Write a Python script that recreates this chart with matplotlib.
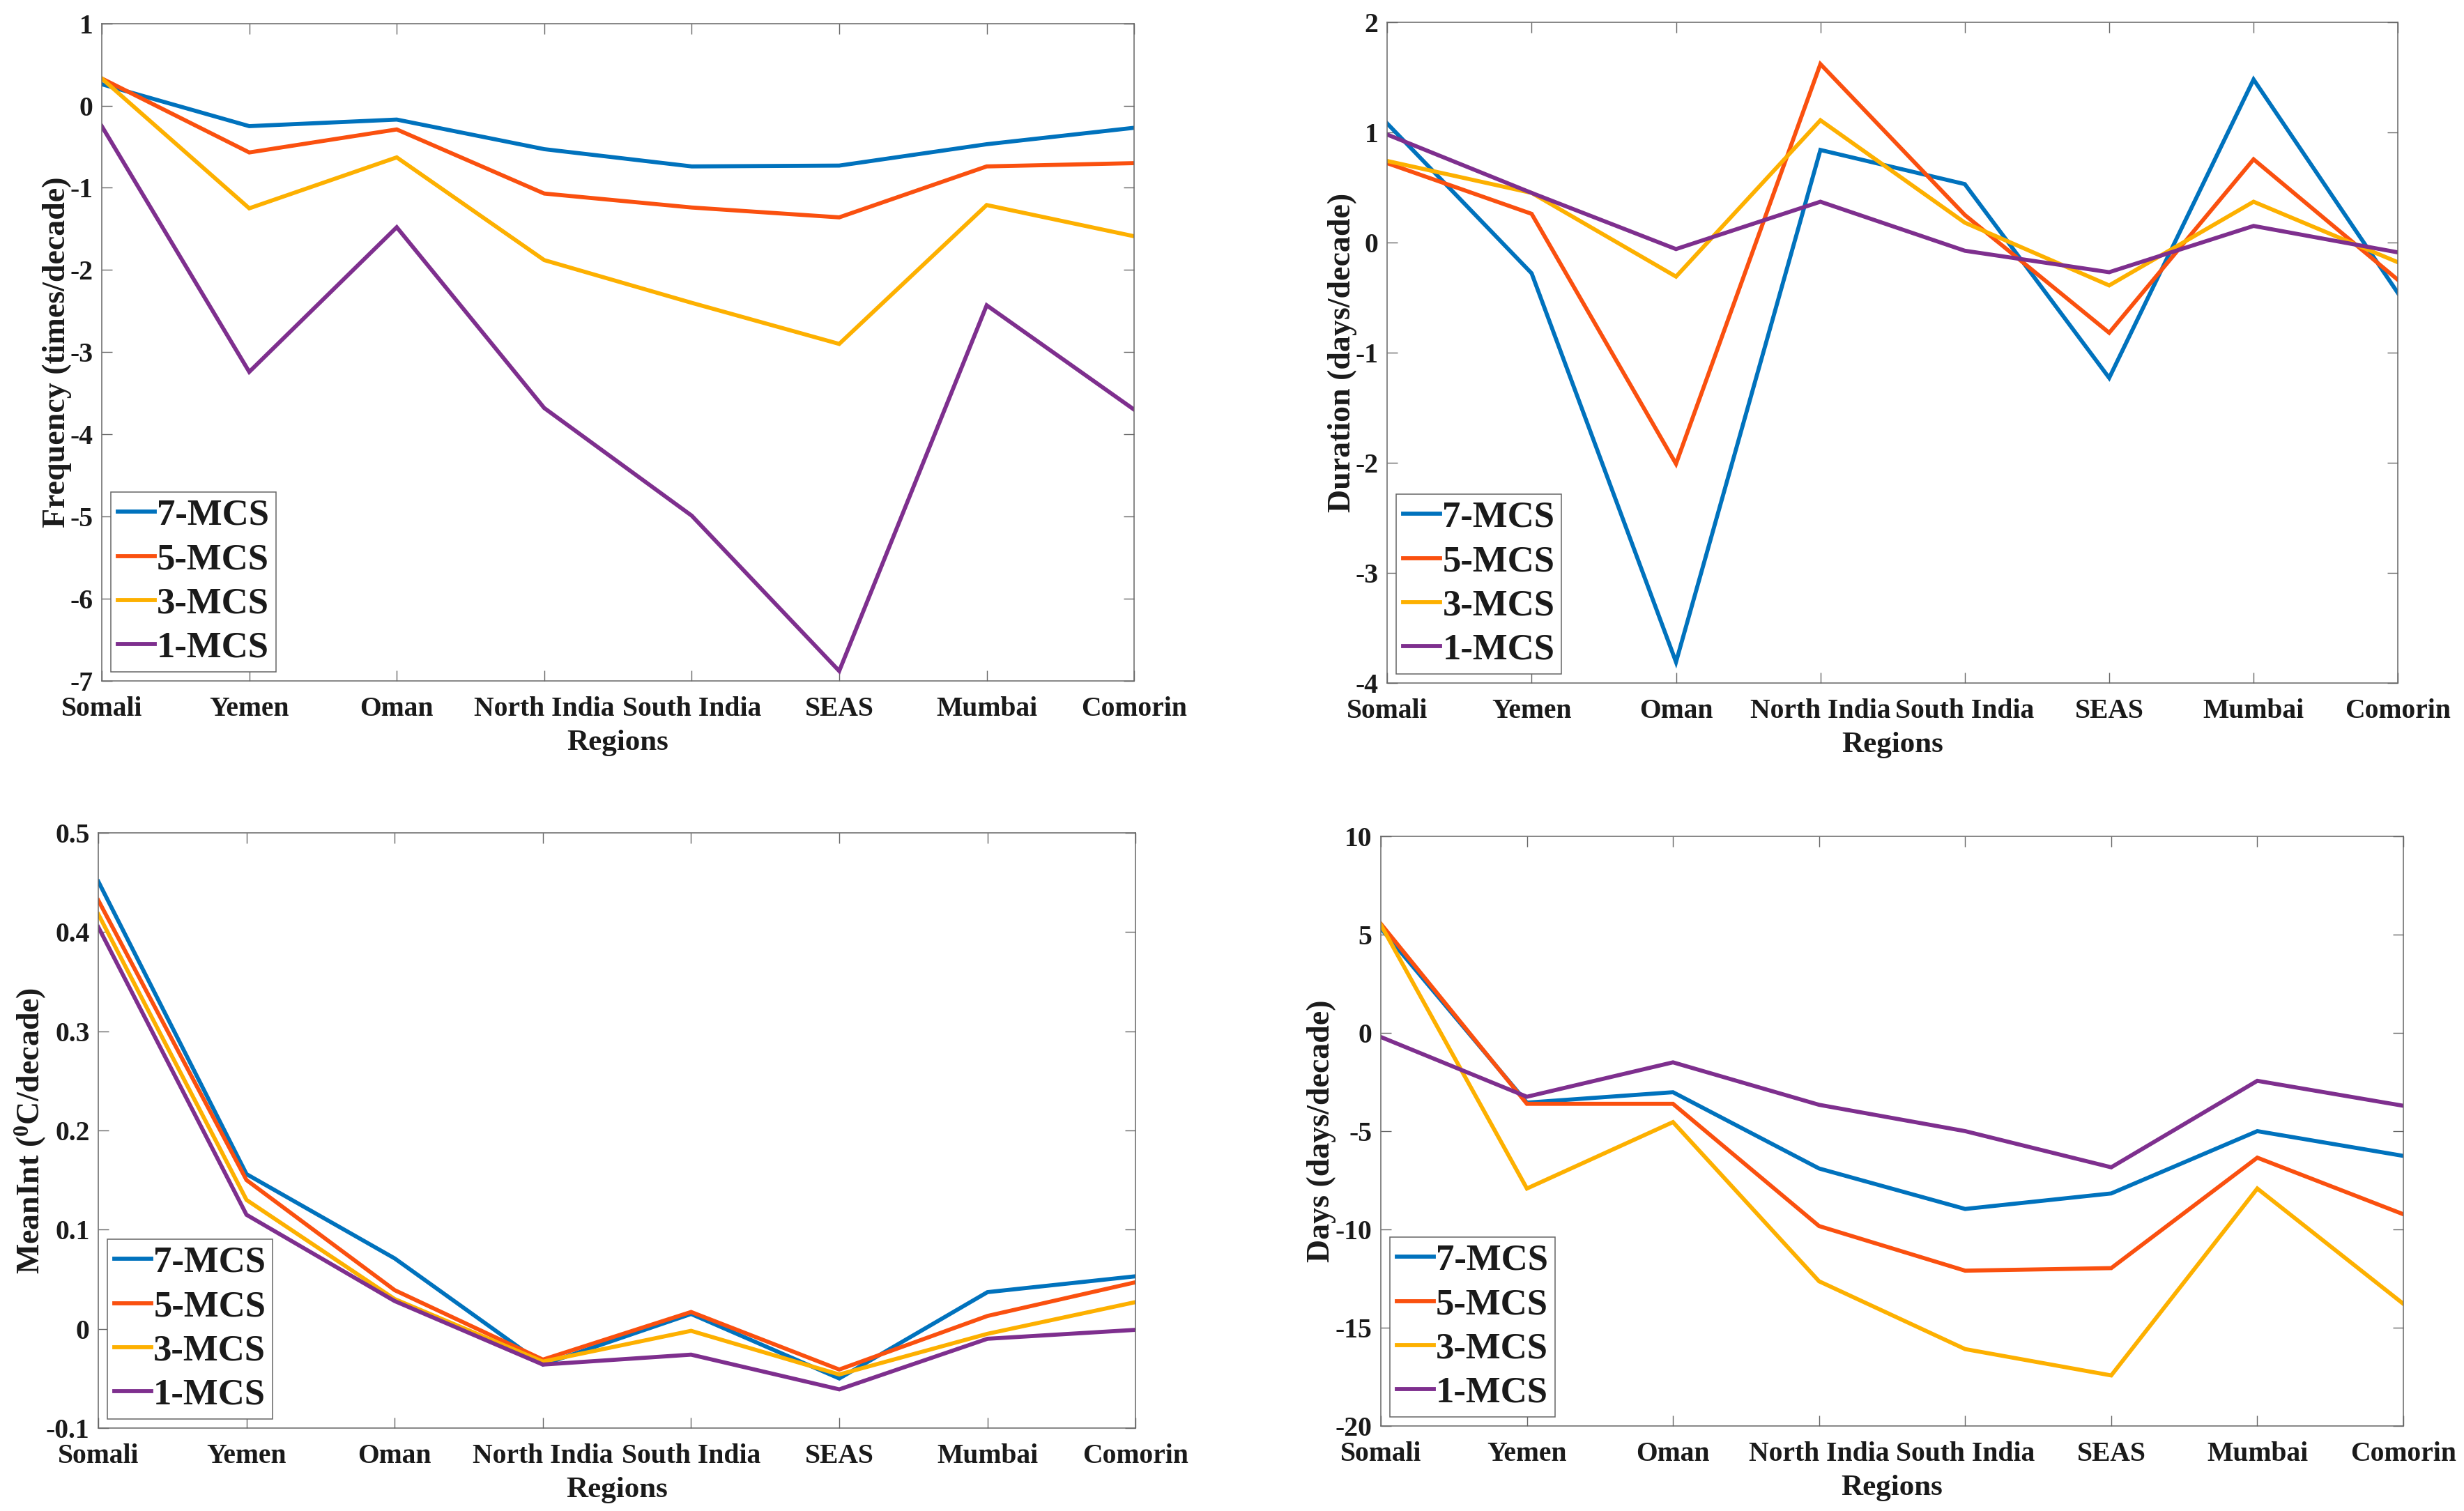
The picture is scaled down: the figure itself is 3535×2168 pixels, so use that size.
import matplotlib
matplotlib.use("Agg")
import matplotlib.pyplot as plt
from matplotlib.ticker import FuncFormatter, FixedLocator

plt.rcParams['font.family'] = ['Liberation Serif', 'DejaVu Serif']
plt.rcParams['font.weight'] = 'bold'
plt.rcParams['axes.unicode_minus'] = False
plt.rcParams['mathtext.fontset'] = 'custom'
plt.rcParams['mathtext.rm'] = 'Liberation Serif:bold'
plt.rcParams['mathtext.bf'] = 'Liberation Serif:bold'
plt.rcParams['mathtext.it'] = 'Liberation Serif:bold'

regions = ["Somali", "Yemen", "Oman", "North India", "South India", "SEAS", "Mumbai", "Comorin"]
series_names = ["7-MCS", "5-MCS", "3-MCS", "1-MCS"]
colors = ["#0072BD", "#FA500F", "#FDB000", "#7E2F8E"]

# Frequency (times/decade)
freq_7 = [0.26, -0.25, -0.17, -0.53, -0.74, -0.73, -0.47, -0.27]
freq_5 = [0.33, -0.57, -0.29, -1.07, -1.24, -1.36, -0.74, -0.70]
freq_3 = [0.33, -1.25, -0.63, -1.88, -2.40, -2.90, -1.21, -1.59]
freq_1 = [-0.25, -3.24, -1.48, -3.68, -4.99, -6.88, -2.43, -3.70]

# Duration (days/decade)
dur_7 = [1.08, -0.28, -3.81, 0.84, 0.53, -1.23, 1.48, -0.46]
dur_5 = [0.72, 0.26, -2.01, 1.62, 0.25, -0.82, 0.755, -0.34]
dur_3 = [0.74, 0.45, -0.31, 1.11, 0.18, -0.39, 0.37, -0.18]
dur_1 = [0.98, 0.45, -0.06, 0.37, -0.075, -0.27, 0.15, -0.09]

# MeanInt (degC/decade)
mi_7 = [0.451, 0.156, 0.071, -0.036, 0.015, -0.050, 0.037, 0.053]
mi_5 = [0.432, 0.150, 0.039, -0.031, 0.017, -0.041, 0.013, 0.047]
mi_3 = [0.418, 0.130, 0.030, -0.033, -0.002, -0.046, -0.005, 0.027]
mi_1 = [0.405, 0.115, 0.028, -0.036, -0.026, -0.061, -0.010, -0.001]

# Days (days/decade)
days_7 = [5.32, -3.55, -3.02, -6.90, -8.96, -8.17, -5.00, -6.26]
days_5 = [5.55, -3.61, -3.61, -9.83, -12.10, -11.97, -6.35, -9.23]
days_3 = [5.50, -7.92, -4.54, -12.64, -16.09, -17.43, -7.92, -13.79]
days_1 = [-0.21, -3.25, -1.50, -3.66, -5.00, -6.84, -2.44, -3.71]

panels = [
    dict(data=[freq_7, freq_5, freq_3, freq_1], ylim=(-7, 1), yticks=list(range(-7, 2)),
         ylabel="Frequency (times/decade)", rect=[0.0413, 0.5494, 0.4190, 0.4351], ypad=-2),
    dict(data=[dur_7, dur_5, dur_3, dur_1], ylim=(-4, 2), yticks=list(range(-4, 3)),
         ylabel="Duration (days/decade)", rect=[0.5630, 0.5480, 0.4102, 0.4373], ypad=-2),
    dict(data=[mi_7, mi_5, mi_3, mi_1], ylim=(-0.1, 0.5), yticks=[-0.1, 0, 0.1, 0.2, 0.3, 0.4, 0.5],
         ylabel=r"MeanInt ($^{\mathbf{0}}$C/decade)", rect=[0.0399, 0.0549, 0.4210, 0.3939], ypad=-2),
    dict(data=[days_7, days_5, days_3, days_1], ylim=(-20, 10), yticks=[-20, -15, -10, -5, 0, 5, 10],
         ylabel="Days (days/decade)", rect=[0.5604, 0.0563, 0.4150, 0.3902], ypad=-1),
]

fig = plt.figure(figsize=(35.35, 21.68), dpi=100)
x = list(range(len(regions)))
frame_col = "#666666"
text_col = "#1a1a1a"

def fmt(v, pos):
    return "%g" % round(v, 6)

for p in panels:
    ax = fig.add_axes(p["rect"])
    for vals, name, c in zip(p["data"], series_names, colors):
        ax.plot(x, vals, color=c, lw=4.2, label=name, solid_joinstyle='miter')
    ax.set_xlim(0, len(regions) - 1)
    ax.set_ylim(*p["ylim"])
    ax.xaxis.set_major_locator(FixedLocator(x))
    ax.set_xticklabels(regions)
    ax.yaxis.set_major_locator(FixedLocator(p["yticks"]))
    ax.yaxis.set_major_formatter(FuncFormatter(fmt))
    ax.tick_params(axis='both', which='major', direction='in', length=11, width=1.0,
                   color=frame_col, labelsize=28.5, labelcolor=text_col,
                   top=True, right=True)
    ax.tick_params(axis='x', pad=16)
    ax.tick_params(axis='y', pad=9)
    for lab in ax.get_xticklabels() + ax.get_yticklabels():
        lab.set_fontweight('bold')
    for sp in ax.spines.values():
        sp.set_color(frame_col)
        sp.set_linewidth(1.1)
    ax.set_xlabel("Regions", fontsize=31, fontweight='bold', color=text_col, labelpad=8)
    ax.set_ylabel(p["ylabel"], fontsize=33, fontweight='bold', color=text_col, labelpad=p["ypad"])
    leg = ax.legend(loc='lower left', frameon=True, fancybox=False,
                    edgecolor=frame_col, framealpha=1, borderaxespad=0.25,
                    handlelength=1.0, handletextpad=0.06, borderpad=0.19,
                    labelspacing=0.29, prop={'weight': 'bold', 'size': 38})
    leg.get_frame().set_linewidth(1.1)
    for t in leg.get_texts():
        t.set_color(text_col)

fig.savefig("out.png", dpi=100, facecolor='white')
